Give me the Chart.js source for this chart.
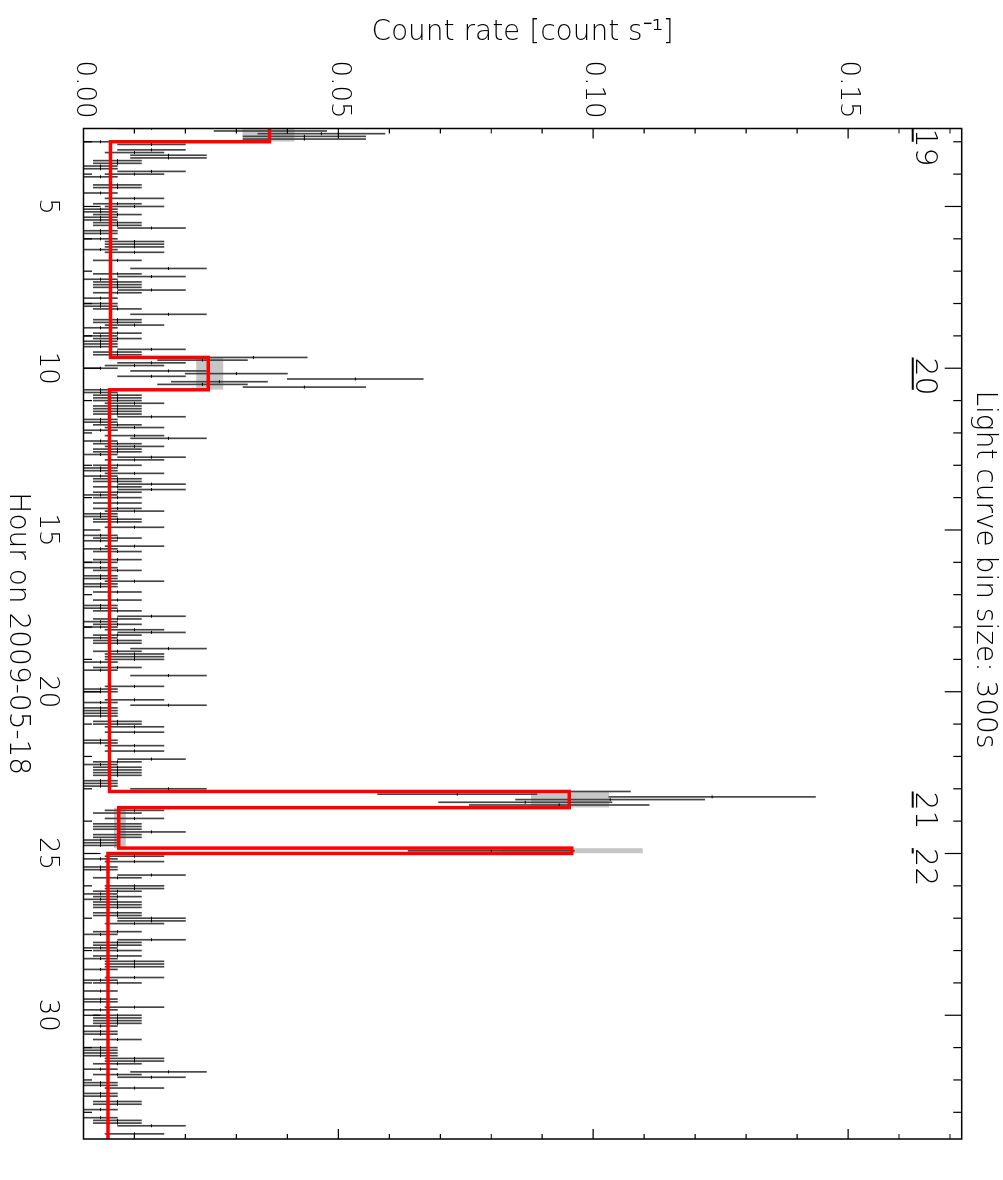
<!DOCTYPE html>
<html>
<head>
<meta charset="utf-8">
<script src="https://cdn.jsdelivr.net/npm/chart.js@4.4.0/dist/chart.umd.min.js"></script>
<style>
  html, body { margin: 0; padding: 0; background: #fff; }
  #wrap { position: relative; width: 1003px; height: 1180px; overflow: hidden; }
  /* the plot is drawn in landscape and turned a quarter clockwise, like the original */
  #chart { position: absolute; left: 0; top: 0; transform-origin: 0 0; transform: translateX(1003px) rotate(90deg); }
</style>
</head>
<body>
<div id="wrap"><canvas id="chart" width="1180" height="1003"></canvas></div>
<script>
// light curve: counts in each 300 s bin, first bin starts at 02:35
const binSeconds = 300;
const firstBinHour = 2 + 35 / 60;
const binCounts = [
  4, 11, 14, 13, 13, 1, 4, 0, 4, 3, 5, 5,
  2, 2, 1, 1, 4, 3, 1, 0, 0, 2, 2, 0,
  1, 0, 3, 0, 2, 3, 1, 1, 2, 1, 1, 2,
  2, 4, 1, 1, 0, 1, 3, 3, 3, 1, 3, 0,
  0, 2, 0, 0, 5, 0, 2, 4, 1, 2, 2, 2,
  4, 2, 0, 1, 0, 1, 1, 2, 0, 5, 0, 2,
  2, 3, 1, 0, 2, 1, 2, 1, 1, 1, 4, 2,
  2, 10, 7, 4, 3, 1, 5, 9, 4, 16, 8, 7,
  13, 1, 1, 2, 2, 2, 3, 2, 2, 2, 2, 4,
  1, 1, 2, 3, 1, 0, 3, 5, 1, 2, 3, 2,
  2, 1, 4, 3, 0, 2, 1, 1, 3, 1, 2, 2,
  4, 2, 4, 2, 1, 2, 0, 2, 0, 2, 3, 1,
  1, 2, 2, 0, 3, 0, 0, 1, 2, 1, 0, 3,
  1, 2, 0, 0, 2, 1, 0, 1, 2, 0, 1, 1,
  3, 1, 1, 0, 2, 0, 0, 2, 0, 1, 1, 2,
  0, 4, 2, 1, 2, 1, 3, 4, 2, 1, 2, 2,
  0, 5, 2, 3, 3, 3, 1, 0, 2, 1, 0, 5,
  0, 0, 0, 3, 1, 1, 0, 0, 3, 1, 5, 1,
  1, 1, 1, 0, 2, 2, 3, 0, 3, 0, 0, 1,
  1, 3, 0, 3, 0, 0, 4, 2, 1, 2, 2, 2,
  2, 0, 1, 1, 1, 5, 27, 22, 37, 31, 26, 28,
  5, 3, 2, 0, 3, 0, 2, 2, 2, 4, 2, 2,
  1, 1, 1, 0, 24, 0, 3, 1, 3, 0, 1, 1,
  0, 4, 2, 0, 0, 3, 3, 2, 1, 2, 1, 2,
  2, 2, 0, 2, 2, 4, 4, 3, 0, 0, 2, 1,
  0, 4, 2, 2, 1, 2, 0, 2, 1, 3, 3, 3,
  1, 0, 0, 3, 1, 2, 0, 0, 1, 0, 0, 1,
  1, 0, 3, 1, 0, 2, 2, 2, 2, 1, 0, 1,
  1, 0, 2, 0, 0, 1, 1, 1, 1, 3, 3, 2,
  0, 1, 5, 2, 4, 0, 1, 1, 3, 0, 1, 1,
  0, 2, 2, 0, 1, 0, 0, 1, 2, 2, 4, 0,
  0, 3, 0
];

// Bayesian blocks (hours, count s-1) and their rate uncertainty
const blockStart = [2.59, 3.0, 9.6667, 10.6667, 23.0833, 23.5833, 24.8333, 25.0];
const blockEnd = [3.0, 9.6667, 10.6667, 23.0833, 23.5833, 24.8333, 25.0, 33.825];
const blockRate = [0.0365, 0.0053, 0.0245, 0.0051, 0.0953, 0.0069, 0.0958, 0.0048];
const blockRateLo = [0.0312, null, 0.0221, null, 0.0878, 0.0060, 0.0822, null];
const blockRateHi = [0.0414, null, 0.0274, null, 0.1031, 0.0083, 0.1097, null];
const blockLabels = ['19', '', '20', '', '21', '', '22', ''];

// axes
const hourMin = 2.59;
const hourMax = 33.825;
const rateMax = 0.1723;
const hourTicks = [3, 4, 5, 6, 7, 8, 9, 10, 11, 12, 13, 14, 15, 16, 17, 18, 19, 20,
  21, 22, 23, 24, 25, 26, 27, 28, 29, 30, 31, 32, 33];
const rateTicks = [0, 0.01, 0.02, 0.03, 0.04, 0.05, 0.06, 0.07, 0.08, 0.09,
  0.10, 0.11, 0.12, 0.13, 0.14, 0.15, 0.16, 0.17];

const FONT = '"DejaVu Sans", sans-serif';

// points and error bars from the bins
const points = [];
const errBars = [];
binCounts.forEach((n, i) => {
  if (n <= 0) return;
  const hour = firstBinHour + i * binSeconds / 3600;
  const rate = n / binSeconds;
  const err = Math.sqrt(n) / binSeconds;
  points.push({ x: hour, y: rate });
  errBars.push({ x: hour, y: [Math.max(0, rate - err), rate + err] });
});

// red step line through the blocks
const steps = blockStart.map((s, i) => ({ x: s, y: blockRate[i] }));
steps.push({ x: blockEnd[blockEnd.length - 1], y: blockRate[blockRate.length - 1] });

// grey uncertainty boxes
const boxes = [];
blockStart.forEach((s, i) => {
  if (blockRateLo[i] == null) return;
  boxes.push({
    type: 'line',
    data: [{ x: s, y: blockRateHi[i] }, { x: blockEnd[i], y: blockRateHi[i] }],
    borderWidth: 0,
    pointRadius: 0,
    backgroundColor: '#c6c6c6',
    fill: { value: blockRateLo[i] },
    order: 3
  });
});

// inward ticks on all four sides, frame, block numbers
const framePlugin = {
  id: 'framePlugin',
  afterDatasetsDraw(chart) {
    const { ctx, chartArea: a, scales: { x, y } } = chart;
    ctx.save();
    ctx.strokeStyle = '#000';
    ctx.lineWidth = 1.2;
    ctx.beginPath();
    hourTicks.forEach(h => {
      const px = x.getPixelForValue(h);
      const len = h % 5 === 0 ? 17 : 8.5;
      ctx.moveTo(px, a.bottom); ctx.lineTo(px, a.bottom - len);
      ctx.moveTo(px, a.top); ctx.lineTo(px, a.top + len);
    });
    rateTicks.forEach(r => {
      const py = y.getPixelForValue(r);
      const len = Math.round(r * 100) % 5 === 0 ? 10 : 5;
      ctx.moveTo(a.left, py); ctx.lineTo(a.left + len, py);
      ctx.moveTo(a.right, py); ctx.lineTo(a.right - len, py);
    });
    ctx.stroke();
    ctx.lineWidth = 1.5;
    ctx.strokeRect(a.left, a.top, a.right - a.left, a.bottom - a.top);

    ctx.fillStyle = '#000';
    ctx.font = '200 30px ' + FONT;
    ctx.textAlign = 'left';
    ctx.textBaseline = 'alphabetic';
    ctx.lineWidth = 2;
    blockLabels.forEach((lab, i) => {
      if (!lab) return;
      const x0 = x.getPixelForValue(blockStart[i]);
      const x1 = x.getPixelForValue(blockEnd[i]);
      ctx.fillText(lab, x0, a.top + 46);
      ctx.beginPath();
      ctx.moveTo(x0, a.top + 49);
      ctx.lineTo(x1, a.top + 49);
      ctx.stroke();
    });
    ctx.restore();
  }
};

new Chart(document.getElementById('chart').getContext('2d'), {
  type: 'scatter',
  data: {
    datasets: [
      {
        type: 'line',
        data: steps,
        stepped: true,
        borderColor: '#ff0000',
        borderWidth: 3.5,
        pointRadius: 0,
        fill: false,
        order: 0
      },
      {
        type: 'scatter',
        data: points,
        pointStyle: 'line',
        pointRadius: 1.5,
        borderColor: '#000',
        borderWidth: 1,
        order: 1
      },
      {
        type: 'bar',
        data: errBars,
        backgroundColor: '#444',
        barThickness: 1,
        borderWidth: 0,
        order: 2
      },
      ...boxes
    ]
  },
  options: {
    responsive: false,
    animation: false,
    devicePixelRatio: 1,
    layout: { padding: { left: 0, right: 41, top: 0, bottom: 0 } },
    plugins: {
      legend: { display: false },
      tooltip: { enabled: false },
      title: {
        display: true,
        text: 'Light curve bin size: 300s',
        color: '#000',
        font: { family: FONT, size: 28, weight: '200' },
        padding: { top: 2, bottom: 5.7 }
      }
    },
    scales: {
      x: {
        type: 'linear',
        position: 'bottom',
        min: hourMin,
        max: hourMax,
        offset: false,
        grid: { display: false, drawTicks: false, offset: false },
        border: { display: false },
        afterBuildTicks: scale => { scale.ticks = hourTicks.map(v => ({ value: v })); },
        ticks: {
          autoSkip: false,
          maxRotation: 0,
          padding: 21,
          color: '#000',
          font: { family: FONT, size: 26, weight: '200' },
          callback: v => (v % 5 === 0 ? String(v) : '')
        },
        title: {
          display: true,
          text: 'Hour on 2009-05-18',
          color: '#000',
          font: { family: FONT, size: 28, weight: '200' },
          padding: { top: 0, bottom: 0 }
        },
        afterFit: scale => { scale.height = 83.5; }
      },
      y: {
        type: 'linear',
        position: 'left',
        min: 0,
        max: rateMax,
        grid: { display: false, drawTicks: false },
        border: { display: false },
        afterBuildTicks: scale => { scale.ticks = rateTicks.map(v => ({ value: v })); },
        ticks: {
          autoSkip: false,
          padding: 10,
          color: '#000',
          font: { family: FONT, size: 26, weight: '200' },
          callback: v => (Math.round(v * 100) % 5 === 0 ? v.toFixed(2) : '')
        },
        title: {
          display: true,
          text: 'Count rate [count s\u207B\u00B9]',
          color: '#000',
          font: { family: FONT, size: 28, weight: '200' },
          padding: { top: 16, bottom: 0 }
        },
        afterFit: scale => { scale.width = 128.5; }
      }
    }
  },
  plugins: [framePlugin]
});
</script>
</body>
</html>
